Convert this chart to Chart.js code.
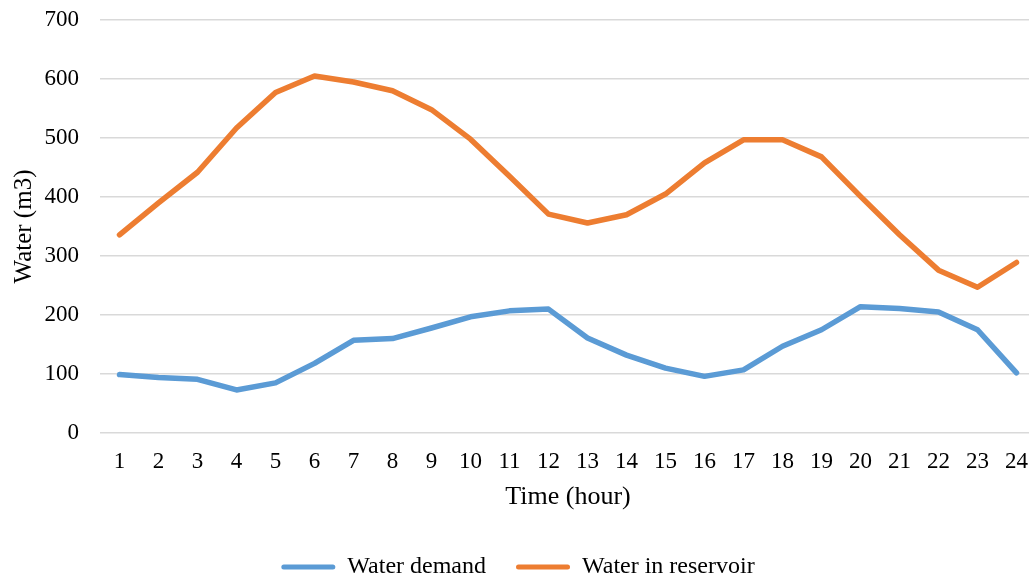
<!DOCTYPE html>
<html>
<head>
<meta charset="utf-8">
<script src="https://cdn.jsdelivr.net/npm/chart.js@4"></script>
<style>
  html, body { margin: 0; padding: 0; background: #ffffff; overflow: hidden; }
  #wrap { width: 1036px; height: 589px; }
</style>
</head>
<body>
<div id="wrap"><canvas id="chart" width="1036" height="589"></canvas></div>
<script>
// Hourly water balance
const hours = ['1','2','3','4','5','6','7','8','9','10','11','12','13','14','15','16','17','18','19','20','21','22','23','24'];
const waterDemand = [99, 94, 91, 73, 85, 118, 157, 160, 178, 197, 207, 210, 161, 132, 110, 96, 107, 147, 175, 214, 211, 205, 175, 102];
const waterInReservoir = [336, 390, 442, 517, 577, 605, 595, 580, 548, 498, 435, 371, 356, 370, 405, 458, 497, 497, 468, 401, 336, 276, 247, 289];
const yTicks = [0, 100, 200, 300, 400, 500, 600, 700];

const serif = '"Liberation Serif", "Times New Roman", serif';

new Chart(document.getElementById('chart'), {
  type: 'line',
  data: {
    labels: hours,
    datasets: [
      {
        label: 'Water demand',
        data: waterDemand,
        borderColor: '#5B9BD5',
        backgroundColor: '#5B9BD5',
        borderWidth: 5.5,
        pointRadius: 0,
        tension: 0,
        borderCapStyle: 'round',
        borderJoinStyle: 'round'
      },
      {
        label: 'Water in reservoir',
        data: waterInReservoir,
        borderColor: '#ED7D31',
        backgroundColor: '#ED7D31',
        borderWidth: 5.5,
        pointRadius: 0,
        tension: 0,
        borderCapStyle: 'round',
        borderJoinStyle: 'round'
      }
    ]
  },
  options: {
    responsive: false,
    animation: false,
    layout: { padding: { top: 20, left: 0, right: 0, bottom: 0 } },
    plugins: {
      tooltip: { enabled: false },
      legend: {
        position: 'bottom',
        labels: {
          font: { family: serif, size: 24 },
          color: '#000000',
          boxWidth: 54,
          boxHeight: 5,
          padding: 30,
          useBorderRadius: true,
          borderRadius: 2.5,
          generateLabels(chart) {
            return Chart.defaults.plugins.legend.labels.generateLabels(chart).map(item => {
              item.lineWidth = 0;
              return item;
            });
          }
        }
      }
    },
    scales: {
      x: {
        offset: true,
        grid: { display: false, drawTicks: false },
        border: { display: false },
        ticks: {
          font: { family: serif, size: 23 },
          color: '#000000',
          padding: 15,
          maxRotation: 0,
          autoSkip: false
        },
        title: {
          display: true,
          text: 'Time (hour)',
          font: { family: serif, size: 26 },
          color: '#000000',
          padding: { top: 0, bottom: 12 }
        },
        afterFit(scale) {
          scale.height = 92;
          scale.paddingLeft = 0;
          scale.paddingRight = 0;
        }
      },
      y: {
        min: 0,
        max: 700,
        afterBuildTicks(scale) { scale.ticks = yTicks.map(v => ({ value: v })); },
        grid: { color: '#d9d9d9', lineWidth: 1.5, drawTicks: false },
        border: { display: false },
        ticks: {
          font: { family: serif, size: 23 },
          color: '#000000',
          padding: 21
        },
        title: {
          display: true,
          text: 'Water (m3)',
          font: { family: serif, size: 25 },
          color: '#000000',
          padding: { top: 9, bottom: 0 }
        },
        afterFit(scale) {
          scale.width = 100;
          scale.paddingTop = 0;
          scale.paddingBottom = 0;
        }
      }
    }
  }
});
</script>
</body>
</html>
